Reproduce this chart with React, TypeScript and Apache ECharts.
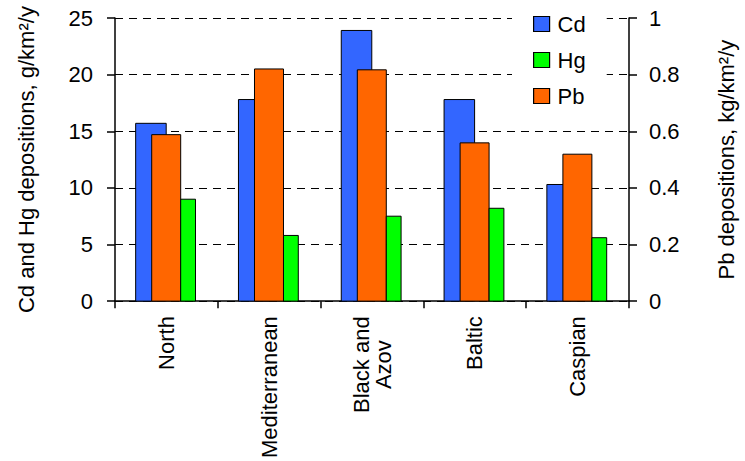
import React, { useEffect, useRef } from "react";
import * as echarts from "echarts";

const categories = ["North", "Mediterranean", "Black and\nAzov", "Baltic", "Caspian"];
const cdValues = [15.7, 17.8, 23.9, 17.8, 10.3];
const hgValues = [9.0, 5.8, 7.5, 8.2, 5.6];
const pbValues = [0.588, 0.82, 0.817, 0.559, 0.519];
const leftTicks = [0, 5, 10, 15, 20, 25];
const rightTicks = [0, 0.2, 0.4, 0.6, 0.8, 1];
const seriesNames = ["Cd", "Hg", "Pb"];
const seriesColors: Record<string, string> = { Cd: "#3366FF", Hg: "#00FF00", Pb: "#FF6600" };

const FONT = "Liberation Sans, Arial, sans-serif";

function makeRender(startFrac: number, widthFrac: number) {
  return (params: any, api: any) => {
    const idx = api.value(0);
    const val = api.value(1);
    const base = api.coord([idx, 0]);
    const top = api.coord([idx, val]);
    const band = api.size([1, 0])[0];
    const x0 = base[0] - band / 2 + band * startFrac;
    return {
      type: "rect",
      shape: { x: x0, y: top[1], width: band * widthFrac, height: base[1] - top[1] },
      style: api.style(),
    };
  };
}

export default function App() {
  const ref = useRef<HTMLDivElement>(null);
  useEffect(() => {
    const chart = echarts.init(ref.current!, null, { renderer: "svg" });
    const toData = (arr: number[]) => arr.map((v, i) => [i, v]);
    const legendBorder = { borderColor: "#000", borderWidth: 1.2 };
    const legendProxies = seriesNames.map((n) => ({
      name: n,
      type: "bar",
      data: [],
      itemStyle: { color: seriesColors[n], borderColor: "#000", borderWidth: 1.2 },
    }));
    const catData = categories.map((c) =>
      c.indexOf("\n") >= 0
        ? { value: c, textStyle: { align: "center", padding: [0, 97, 0, 0] } }
        : c
    );
    chart.setOption({
      animation: false,
      backgroundColor: "#fff",
      textStyle: { fontFamily: FONT },
      grid: { left: 115, right: 108, top: 18, bottom: 158 },
      legend: {
        orient: "vertical",
        left: 512,
        top: 8,
        backgroundColor: "#fff",
        padding: [5, 21, 5, 21],
        itemWidth: 16,
        itemHeight: 15,
        itemGap: 14,
        icon: "rect",
        itemStyle: legendBorder,
        data: seriesNames,
        textStyle: { fontSize: 22, color: "#000", fontFamily: FONT, padding: [0, 0, 0, 3] },
      },
      xAxis: {
        type: "category",
        data: catData,
        boundaryGap: true,
        axisLine: { lineStyle: { color: "#000", width: 1.5 } },
        axisTick: { show: true, length: 7, lineStyle: { color: "#000", width: 1.5 } },
        axisLabel: {
          rotate: 90,
          margin: 15,
          fontSize: 22,
          color: "#000",
          fontFamily: FONT,
        },
      },
      yAxis: [
        {
          type: "value",
          min: leftTicks[0],
          max: leftTicks[leftTicks.length - 1],
          interval: 5,
          name: "Cd and Hg depositions, g/km²/y",
          nameLocation: "middle",
          nameGap: 78,
          nameTextStyle: { fontSize: 22, color: "#000", fontFamily: FONT },
          axisLine: { show: true, lineStyle: { color: "#000", width: 1.5 } },
          axisTick: { show: true, length: 8, lineStyle: { color: "#000", width: 1.5 } },
          axisLabel: { margin: 22, fontSize: 22, color: "#000", fontFamily: FONT },
          splitLine: { show: true, lineStyle: { color: "#000", width: 1, type: [8, 6] } },
        },
        {
          type: "value",
          min: rightTicks[0],
          max: rightTicks[rightTicks.length - 1],
          interval: 0.2,
          position: "right",
          name: "Pb depositions, kg/km²/y",
          nameLocation: "middle",
          nameRotate: 90,
          nameGap: 86,
          nameTextStyle: { fontSize: 22, color: "#000", fontFamily: FONT },
          axisLine: { show: true, lineStyle: { color: "#000", width: 1.5 } },
          axisTick: { show: true, length: 8, lineStyle: { color: "#000", width: 1.5 } },
          axisLabel: { margin: 20, fontSize: 22, color: "#000", fontFamily: FONT },
          splitLine: { show: false },
        },
      ],
      series: [
        ...legendProxies,
        {
          name: "Cd",
          type: "custom",
          yAxisIndex: 0,
          encode: { x: 0, y: 1 },
          data: toData(cdValues),
          itemStyle: { color: seriesColors.Cd, borderColor: "#000", borderWidth: 1 },
          renderItem: makeRender(0.201, 0.297),
        },
        {
          name: "Pb",
          type: "custom",
          yAxisIndex: 1,
          encode: { x: 0, y: 1 },
          data: toData(pbValues),
          itemStyle: { color: seriesColors.Pb, borderColor: "#000", borderWidth: 1 },
          renderItem: makeRender(0.357, 0.282),
        },
        {
          name: "Hg",
          type: "custom",
          yAxisIndex: 0,
          encode: { x: 0, y: 1 },
          data: toData(hgValues),
          itemStyle: { color: seriesColors.Hg, borderColor: "#000", borderWidth: 1 },
          renderItem: makeRender(0.639, 0.144),
        },
      ],
    });
    return () => chart.dispose();
  }, []);
  return (
    <div
      ref={ref}
      style={{ position: "fixed", left: 0, top: 0, width: 745, height: 461, background: "#fff" }}
    />
  );
}
